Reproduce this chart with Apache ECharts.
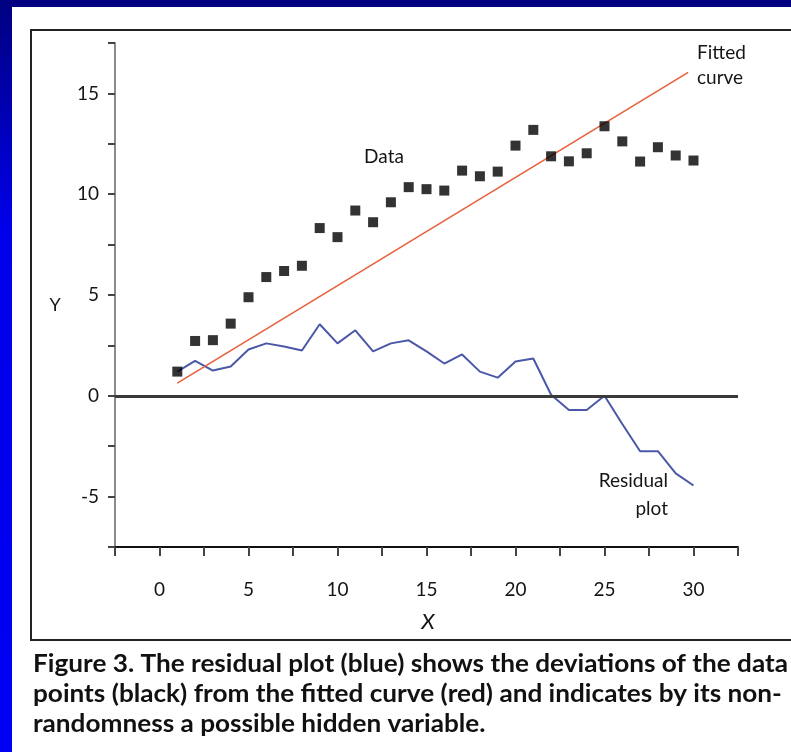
<!DOCTYPE html>
<html>
<head>
<meta charset="utf-8">
<script src="https://cdn.jsdelivr.net/npm/echarts@6/dist/echarts.min.js"></script>
<style>
  html, body { margin: 0; padding: 0; background: #000080; overflow: hidden; }
  #chart { width: 791px; height: 752px; }
</style>
</head>
<body>
<div id="chart"></div>
<script>
// Observations: x = 1..30
const xValues = [1, 2, 3, 4, 5, 6, 7, 8, 9, 10, 11, 12, 13, 14, 15,
                 16, 17, 18, 19, 20, 21, 22, 23, 24, 25, 26, 27, 28, 29, 30];
const dataY = [1.2, 2.72, 2.76, 3.58, 4.89, 5.89, 6.19, 6.45, 8.32, 7.87,
               9.19, 8.61, 9.6, 10.35, 10.25, 10.18, 11.17, 10.89, 11.12, 12.41,
               13.19, 11.88, 11.63, 12.03, 13.37, 12.62, 11.62, 12.33, 11.92, 11.67];
// Residual plot values
const residualY = [1.2, 1.73, 1.25, 1.45, 2.3, 2.6, 2.45, 2.25, 3.55, 2.6,
                   3.25, 2.2, 2.6, 2.75, 2.2, 1.6, 2.05, 1.2, 0.9, 1.7,
                   1.85, 0.05, -0.7, -0.7, 0.0, -1.4, -2.75, -2.75, -3.85, -4.45];
// Fitted straight line end points
const fitX = [1, 29.7];
const fitY = [0.63, 16.04];
// Labelled tick values
const xTickLabels = [0, 5, 10, 15, 20, 25, 30];
const yTickLabels = [-5, 0, 5, 10, 15];

const captionLines = [
  'Figure 3. The residual plot (blue) shows the deviations of the data',
  'points (black) from the fitted curve (red) and indicates by its non-',
  'randomness a possible hidden variable.'
];

const FONT = 'Lato, "Open Sans", "DejaVu Sans", sans-serif';
const TEXT_COLOR = '#151515';

// Squeeze the caption horizontally so the first line spans the panel width
const capFontSize = 25;
const measure = document.createElement('canvas').getContext('2d');
measure.font = 'bold ' + capFontSize + 'px ' + FONT;
const capScale = 755 / measure.measureText(captionLines[0]).width;

const chart = echarts.init(document.getElementById('chart'), null, { renderer: 'canvas' });

const captionGraphics = captionLines.map((t, i) => ({
  type: 'text',
  x: 33,
  y: 664 + i * 30,
  scaleX: capScale,
  z: 10,
  style: {
    text: t,
    font: 'bold ' + capFontSize + 'px ' + FONT,
    fill: '#111',
    textAlign: 'left',
    textVerticalAlign: 'middle'
  }
}));

function note(text, x, y, align) {
  return {
    type: 'text', x: x, y: y,
    style: { text: text, font: '19px ' + FONT, fill: TEXT_COLOR, textAlign: align, textVerticalAlign: 'middle' }
  };
}

const option = {
  backgroundColor: '#000080',
  animation: false,
  grid: { left: 115, top: 43, width: 623, height: 504, containLabel: false },
  xAxis: {
    type: 'value',
    min: -2.5,
    max: 32.5,
    interval: 2.5,
    splitLine: { show: false },
    axisLine: { show: true, onZero: false, lineStyle: { color: '#111', width: 2 } },
    axisTick: { show: true, inside: false, length: 9, lineStyle: { color: '#444', width: 2 } },
    axisLabel: {
      margin: 33,
      fontSize: 19,
      fontFamily: FONT,
      color: TEXT_COLOR,
      formatter: v => (xTickLabels.indexOf(v) >= 0 ? String(v) : '')
    }
  },
  yAxis: {
    type: 'value',
    min: -7.5,
    max: 17.5,
    interval: 2.5,
    splitLine: { show: false },
    axisLine: { show: true, onZero: false, lineStyle: { color: '#8a8a8a', width: 2 } },
    axisTick: { show: true, inside: false, length: 7, lineStyle: { color: '#444', width: 2 } },
    axisLabel: {
      margin: 16,
      fontSize: 19,
      fontFamily: FONT,
      color: TEXT_COLOR,
      formatter: v => (yTickLabels.indexOf(v) >= 0 ? String(v) : '')
    }
  },
  series: [
    {
      name: 'Residual',
      type: 'line',
      data: xValues.map((x, i) => [x, residualY[i]]),
      showSymbol: false,
      symbol: 'none',
      lineStyle: { color: '#4b58a8', width: 2 },
      z: 3,
      markLine: {
        silent: true,
        symbol: ['none', 'none'],
        label: { show: false },
        lineStyle: { color: '#3a3a3a', width: 3, type: 'solid' },
        data: [{ yAxis: 0 }]
      }
    },
    {
      name: 'Fitted',
      type: 'line',
      data: fitX.map((x, i) => [x, fitY[i]]),
      showSymbol: false,
      symbol: 'none',
      lineStyle: { color: '#e8603c', width: 1.6 },
      z: 4
    },
    {
      name: 'Data',
      type: 'scatter',
      data: xValues.map((x, i) => [x, dataY[i]]),
      symbol: 'rect',
      symbolSize: 10,
      itemStyle: { color: '#000' },
      z: 5
    }
  ],
  graphic: [
    // left blue strip
    {
      type: 'rect', z: -5,
      shape: { x: 0, y: 0, width: 12, height: 752 },
      style: {
        fill: new echarts.graphic.LinearGradient(0, 0, 0, 1, [
          { offset: 0, color: '#000080' },
          { offset: 0.3, color: '#0000e8' },
          { offset: 1, color: '#0000f4' }
        ])
      }
    },
    // white panel
    { type: 'rect', z: -5, shape: { x: 12, y: 7, width: 779, height: 745 }, style: { fill: '#ffffff' } },
    // figure frame
    {
      type: 'rect', z: -4,
      shape: { x: 31, y: 30, width: 790, height: 610 },
      style: { fill: 'none', stroke: '#222', lineWidth: 2 }
    },
    // axis titles
    {
      type: 'text', x: 55, y: 305,
      style: { text: 'Y', font: '18px ' + FONT, fill: TEXT_COLOR, textAlign: 'center', textVerticalAlign: 'middle' }
    },
    {
      type: 'text', x: 428, y: 622,
      style: { text: 'X', font: 'italic 22px ' + FONT, fill: TEXT_COLOR, textAlign: 'center', textVerticalAlign: 'middle' }
    },
    // annotations
    note('Data', 384, 157, 'center'),
    note('Fitted', 697, 53, 'left'),
    note('curve', 697, 78, 'left'),
    note('Residual', 668, 481, 'right'),
    note('plot', 668, 509, 'right')
  ].concat(captionGraphics)
};

chart.setOption(option);
</script>
</body>
</html>
